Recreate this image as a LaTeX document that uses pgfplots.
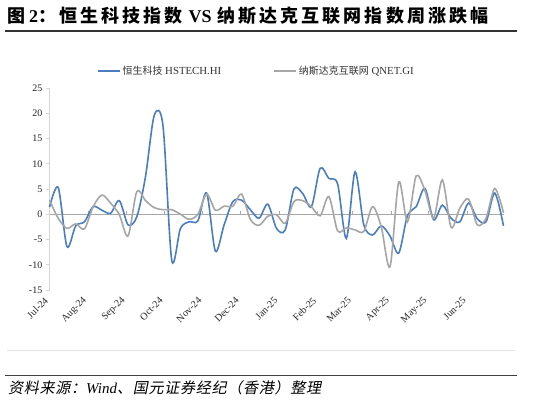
\documentclass[border=0pt]{standalone}
\usepackage{fontspec}
\setmainfont{Liberation Serif}
\newfontfamily\cjk{Noto Sans CJK SC}
\newfontfamily\cjktitle[LetterSpace=17]{Noto Sans CJK SC}
\newfontfamily\cjkit[FakeSlant=0.2,LetterSpace=5]{Noto Sans CJK SC}
\usepackage{pgfplots}
\usepackage{pgfplotstable}
\pgfplotsset{compat=1.18}
\definecolor{hsblue}{HTML}{4A7EBF}
\definecolor{qngray}{HTML}{A6A6A6}
\definecolor{axgray}{HTML}{D4D4D4}
\definecolor{zerogray}{HTML}{A8A8A8}
\pgfplotstableread{
w hs qn
0 1.4 2.8
1 5.3 -0.8
2 -6.4 -2.8
3 -2.3 -1.9
4 -1.5 -2.9
5 1.5 1.5
6 0.8 3.8
7 0.2 2.2
8 2.7 -0.1
9 -2.1 -4.3
10 -0.5 4.5
11 7.5 2.7
12 19.6 1.3
13 17.5 0.9
14 -9.1 0.9
15 -2.8 0.0
16 -1.5 -1.0
17 -1.3 0.0
18 4.2 4.0
19 -7.3 0.8
20 -2.1 1.6
21 2.5 1.6
22 2.8 4.0
23 0.9 -1.0
24 -0.8 -2.2
25 2.0 -0.4
26 -2.8 -0.1
27 -3.1 -1.8
28 5.0 2.5
29 4.1 2.7
30 1.5 1.5
31 9.1 -0.3
32 7.1 3.5
33 6.0 -3.3
34 -4.8 -2.7
35 8.4 -3.1
36 -2.1 -3.4
37 -4.1 1.5
38 -2.3 -2.5
39 -4.3 -10.4
40 -7.7 6.4
41 -0.3 -1.5
42 1.5 7.6
43 5.1 4.7
44 -1.1 -0.8
45 1.8 6.8
46 -0.8 -2.6
47 -1.5 1.2
48 2.2 3.0
49 -0.9 -2.1
50 -1.5 -0.8
51 4.2 5.1
52 -2.3 0.3
}\weekly
\begin{document}
\begin{tikzpicture}
\path[fill=white] (0,0) rectangle (533bp,405bp);
% title
\node[anchor=west, inner sep=0pt] at (7bp,389.5bp)
  {\fontsize{18bp}{20bp}\selectfont\bfseries {\cjktitle 图}\hspace{4bp}2{\cjktitle ：恒生科技指数}\hspace{6bp}VS\hspace{6bp}{\cjktitle 纳斯达克互联网指数周涨跌幅}};
\draw[line width=1.1bp, black!80] (5bp,374bp) -- (517bp,374bp);
% frame bottom and source
\draw[line width=0.8bp, black!12] (7bp,55bp) -- (515bp,55bp);
\draw[line width=1bp, black!75] (5bp,29bp) -- (517bp,29bp);
\node[anchor=west, inner sep=0pt] at (8bp,17bp)
  {\fontsize{15bp}{17bp}\selectfont {\cjkit 资料来源：}\textit{Wind}{\cjkit 、国元证券经纪（香港）整理}};
\begin{axis}[
  at={(49.5bp,115bp)}, anchor=south west,
  scale only axis, width=454bp, height=202bp,
  xmin=0, xmax=52, ymin=-15, ymax=25,
  axis x line*=bottom, axis y line*=left,
  x axis line style={draw=none},
  y axis line style={draw=axgray, line width=0.9bp},
  ytick={-15,-10,...,25},
  xtick={0,4.43,8.86,13.14,17.57,21.86,26.29,30.71,34.71,39.14,43.43,47.86},
  xticklabels={Jul-24,Aug-24,Sep-24,Oct-24,Nov-24,Dec-24,Jan-25,Feb-25,Mar-25,Apr-25,May-25,Jun-25},
  major x tick style={draw=none},
  major y tick style={draw=axgray, line width=0.9bp},
  tick align=outside, major tick length=3bp,
  /pgf/number format/assume math mode=true,
  tick label style={font=\fontsize{10bp}{12bp}\selectfont, text=black!85},
  yticklabel style={inner sep=0pt, xshift=-4bp},
  xticklabel style={inner sep=0pt, xshift=-3bp, yshift=-6bp, rotate=45, anchor=east},
  legend columns=2,
  legend style={at={(0.104,1.084)}, anchor=west, draw=none, fill=none, inner sep=0pt,
    font=\fontsize{10.8bp}{12bp}\selectfont, text=black!80,
    /tikz/every even column/.append style={column sep=50bp}},
  legend cell align=left,
  legend image code/.code={\draw[#1] (0bp,0bp) -- (22bp,0bp);},
  clip=false,
]
\draw[zerogray, line width=1.1bp] (axis cs:0,0) -- (axis cs:52,0);
\pgfplotsinvokeforeach{4.43,8.86,13.14,17.57,21.86,26.29,30.71,34.71,39.14,43.43,47.86}{
  \draw[zerogray, line width=0.9bp] (axis cs:#1,0) -- ([yshift=3.5bp]axis cs:#1,0);
}
\addplot[hsblue, line width=1.6bp, smooth, tension=0.5] table[x=w, y=hs] {\weekly};
\addlegendentry{{\cjk\fontsize{10bp}{12bp}\selectfont 恒生科技} HSTECH.HI}
\addplot[qngray, line width=1.6bp, smooth, tension=0.5] table[x=w, y=qn] {\weekly};
\addlegendentry{{\cjk\fontsize{10bp}{12bp}\selectfont 纳斯达克互联网} QNET.GI}
\end{axis}
\end{tikzpicture}
\end{document}
